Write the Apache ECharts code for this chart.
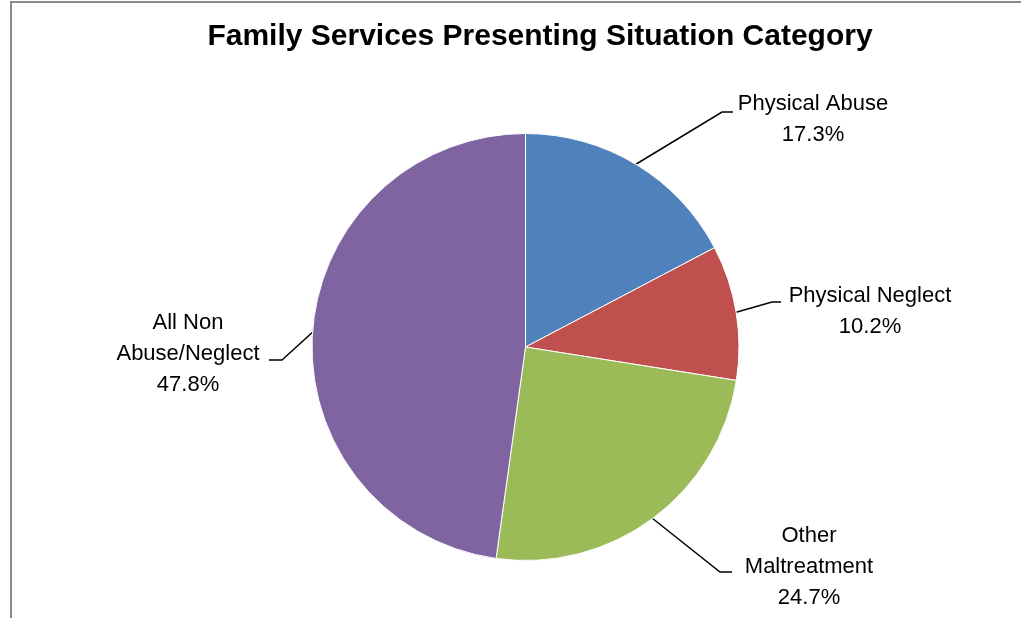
<!DOCTYPE html>
<html>
<head>
<meta charset="utf-8">
<script src="https://cdn.jsdelivr.net/npm/echarts@6/dist/echarts.min.js"></script>
<style>
  html, body { margin: 0; padding: 0; background: #fff; }
  #chart { width: 1021px; height: 618px; }
</style>
</head>
<body>
<div id="chart"></div>
<script>
const categories = ['Physical Abuse', 'Physical Neglect', 'Other Maltreatment', 'All Non Abuse/Neglect'];
const labelTexts = ['Physical Abuse', 'Physical Neglect', 'Other\nMaltreatment', 'All Non\nAbuse/Neglect'];
const values = [17.3, 10.2, 24.7, 47.8];
const colors = ['#4F81BD', '#C0504D', '#9BBB59', '#8064A2'];

// label layout (pixel positions of label centres and leader-line elbows)
const labelCenters = [[813, 119], [870, 311], [809, 567], [188, 354]];
const elbows = [[[722, 112], [733, 112]], [[772, 302], [781, 302]], [[720, 572], [732, 572]], [[282, 360], [269, 360]]];

const chart = echarts.init(document.getElementById('chart'));
chart.setOption({
  animation: false,
  backgroundColor: '#fff',
  title: {
    text: 'Family Services Presenting Situation Category',
    left: 535, top: 17, textAlign: 'center',
    textStyle: { fontFamily: 'Liberation Sans', fontWeight: 'bold', fontSize: 30, color: '#000' }
  },
  graphic: [{
    type: 'rect', silent: true, z: -1,
    shape: { x: 11, y: 2, width: 1100, height: 700 },
    style: { fill: 'none', stroke: '#8a8a8a', lineWidth: 2 }
  }],
  series: [{
    type: 'pie',
    center: [525.5, 347],
    radius: 213.5,
    startAngle: 90,
    clockwise: true,
    avoidLabelOverlap: false,
    itemStyle: { borderColor: '#fff', borderWidth: 1 },
    label: {
      show: true, position: 'outside',
      fontFamily: 'Liberation Sans', fontSize: 22, lineHeight: 31, color: '#000',
      formatter: p => labelTexts[p.dataIndex] + '\n' + p.value.toFixed(1) + '%'
    },
    labelLine: { show: true, length: 20, length2: 10, lineStyle: { color: '#000', width: 1.5 } },
    labelLayout: function (params) {
      const i = params.dataIndex;
      const a = params.labelLinePoints ? params.labelLinePoints[0] : elbows[i][0];
      return {
        x: labelCenters[i][0], y: labelCenters[i][1],
        align: 'center', verticalAlign: 'middle',
        labelLinePoints: [a, elbows[i][0], elbows[i][1]]
      };
    },
    data: categories.map((c, i) => ({ name: c, value: values[i], itemStyle: { color: colors[i] } }))
  }]
});
</script>
</body>
</html>
